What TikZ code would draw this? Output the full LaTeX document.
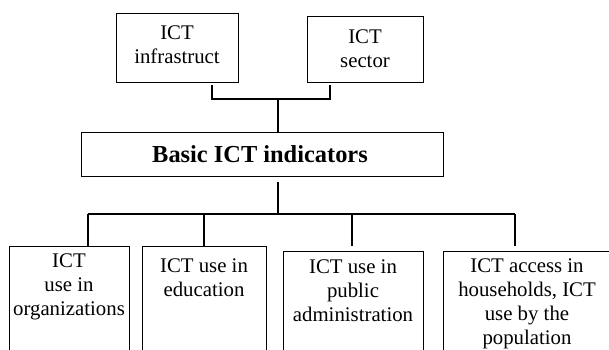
\documentclass[tikz,border=0pt]{standalone}
\usepackage{fontspec}
\setmainfont{Liberation Serif}
\begin{document}
\begin{tikzpicture}[x=1pt,y=-1pt,
  box/.style={draw=black, line width=1.2pt, rectangle, inner sep=0pt, anchor=north west},
  txt/.style={align=center, inner sep=0pt, anchor=base, font=\fontsize{20.8}{24}\selectfont},
  btxt/.style={align=center, inner sep=0pt, anchor=base, font=\fontsize{24.4}{28}\selectfont\bfseries},
  conn/.style={draw=black, line width=1.2pt}]
\useasboundingbox (0,0) rectangle (609,349);
\clip (0,0) rectangle (609,349);
% top boxes (text anchored at the baseline of the last line)
\node[box, minimum width=122pt, minimum height=69pt] (infra) at (116,13) {};
\node[txt] (infraT) at (177,63.5) {ICT\\infrastruct};
\node[box, minimum width=116pt, minimum height=66pt] (sector) at (307,16) {};
\node[txt] (sectorT) at (365,67.5) {ICT\\sector};
% basic box
\node[box, minimum width=362pt, minimum height=44pt] (basic) at (81,132) {};
\node[btxt] (basicT) at (260,162) {Basic ICT indicators};
% bottom boxes (cut off by the picture edge)
\node[box, minimum width=120pt, minimum height=130pt] (b1) at (9,246) {};
\node[txt] (b1T) at (69,315.5) {ICT\\use in\\organizations};
\node[box, minimum width=124pt, minimum height=130pt] (b2) at (142,246) {};
\node[txt] (b2T) at (204,296.5) {ICT use in\\education};
\node[box, minimum width=140pt, minimum height=130pt] (b3) at (283,251) {};
\node[txt] (b3T) at (353,321) {ICT use in\\public\\administration};
\node[box, minimum width=170pt, minimum height=130pt] (b4) at (443,251) {};
\node[txt] (b4T) at (527,344.5) {ICT access in\\households, ICT\\use by the\\population};
% connectors top
\coordinate (j1) at (212,99);
\coordinate (j2) at (330,99);
\coordinate (jc) at (278,99);
\draw[conn] ([yshift=-2pt]infra.south -| j1) -- (j1) -- (j2) -- ([yshift=-2pt]sector.south -| j2);
\draw[conn] (jc) -- (jc |- basic.north);
% connectors bottom
\coordinate (jb) at (278,214);
\coordinate (k1) at (88,214);
\coordinate (k2) at (204,214);
\coordinate (k3) at (352,214);
\coordinate (k4) at (515,214);
\draw[conn] ([yshift=-5pt]basic.south -| jb) -- (jb);
\draw[conn] (k1) -- (k4);
\draw[conn] (k1) -- (k1 |- b1.north);
\draw[conn] (k2) -- (k2 |- b2.north);
\draw[conn] (k3) -- ([yshift=5pt]k3 |- b3.north);
\draw[conn] (k4) -- ([yshift=5pt]k4 |- b4.north);
\end{tikzpicture}
\end{document}
